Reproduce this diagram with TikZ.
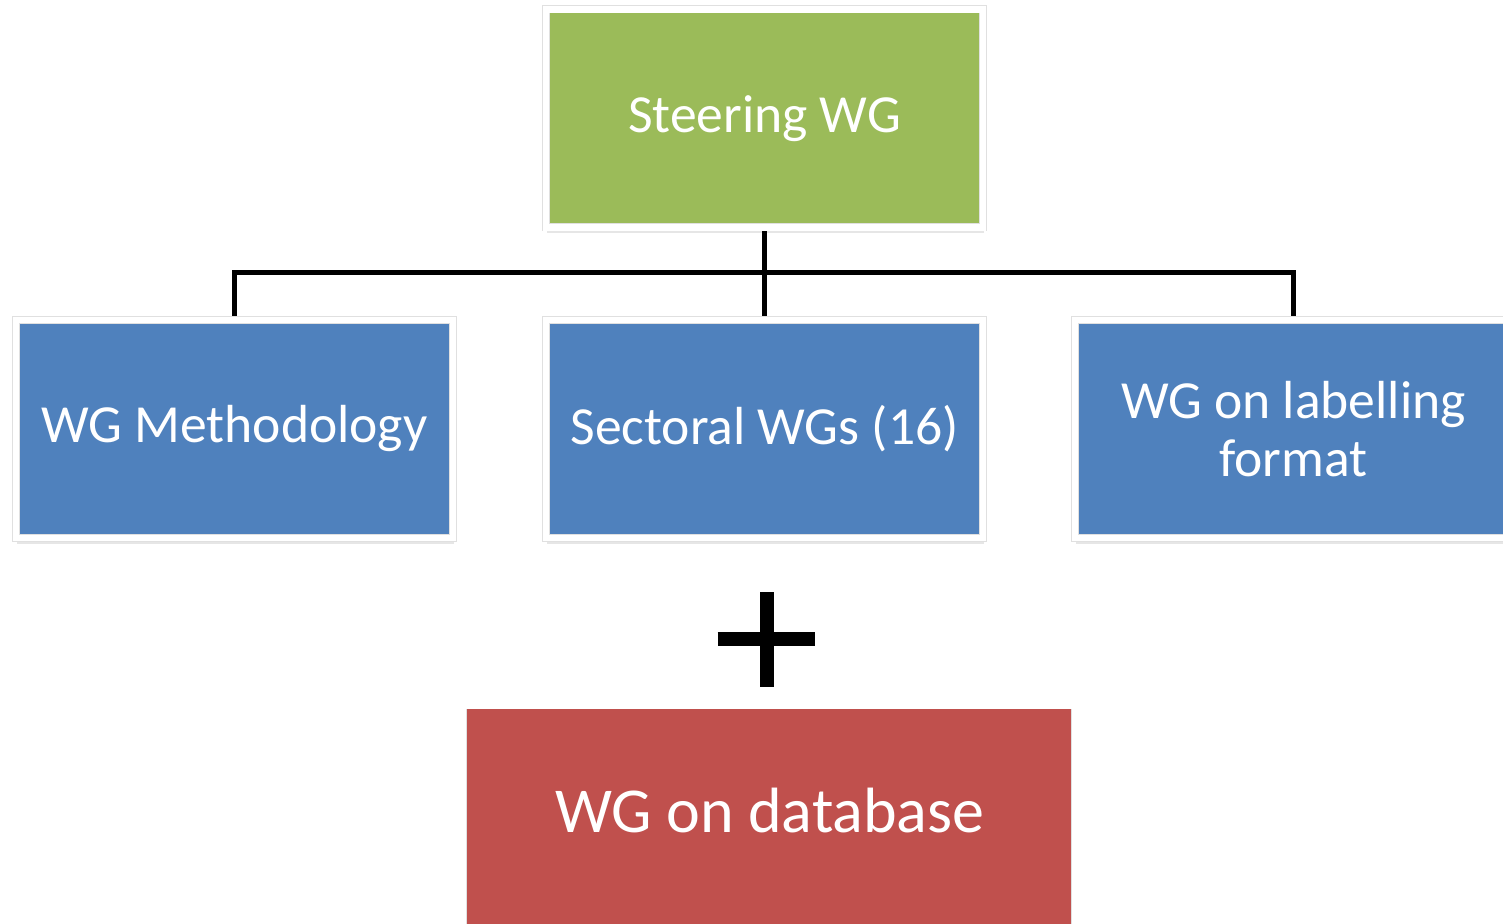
\documentclass[tikz,border=0pt]{standalone}
\usepackage{fontspec}
\setmainfont{Carlito}
\usetikzlibrary{positioning,shadows}

\definecolor{wggreen}{HTML}{9BBB59}
\definecolor{wgblue}{HTML}{4F81BD}
\definecolor{wgred}{HTML}{C0504D}

\tikzset{
  wgbox/.style={rectangle, draw=black!12, line width=0.3pt, double=white,
    double distance=3.4pt, outer sep=2pt, text=white,
    minimum width=218.5pt, minimum height=109pt, inner sep=0pt, align=center,
    font=\fontsize{26.8}{29}\selectfont,
    drop shadow={shadow xshift=0.6pt, shadow yshift=-3pt, opacity=0.2}},
  dbbox/.style={rectangle, draw=black!12, line width=0.3pt, double=white,
    double distance=1.6pt, outer sep=1pt, fill=wgred,
    minimum width=304.25pt, minimum height=150pt, inner sep=0pt,
    drop shadow={shadow xshift=0.6pt, shadow yshift=-3pt, opacity=0.2}},
  dbtext/.style={text=white, inner sep=0pt, font=\fontsize{32}{36}\selectfont},
  conn/.style={line width=2.5pt, black},
  plusbar/.style={line width=7pt, black},
}

\begin{document}
\begin{tikzpicture}[x=0.5pt,y=0.5pt]
\useasboundingbox (0,0) rectangle (1503,924);

\node (SWG) [wgbox, fill=wggreen] at (764.5,805.5) {Steering WG};
\node (SEC) [wgbox, fill=wgblue, below=42.25pt of SWG] {Sectoral WGs (16)};
\node (MET) [wgbox, fill=wgblue, left=42.5pt of SEC] {WG Methodology};
\node (LAB) [wgbox, fill=wgblue, right=42pt of SEC] {WG on labelling\\format};

% tree lines
\coordinate (BUS) at (764.5,651);
\draw[conn] (SWG.south) -- (SEC.north);
\draw[conn] (MET.north) |- (BUS) -| (LAB.north);

% plus sign
\node (PLUS) [inner sep=0pt, minimum width=48.5pt, minimum height=47pt] at (766.5,284.5) {};
\draw[plusbar] (PLUS.west) -- (PLUS.east);
\draw[plusbar] (PLUS.north) -- (PLUS.south);

\node (WGD) [dbbox, anchor=north] at (769,219) {};
\node (WGDT) [dbtext] at (770,113) {WG on database};

\end{tikzpicture}
\end{document}
